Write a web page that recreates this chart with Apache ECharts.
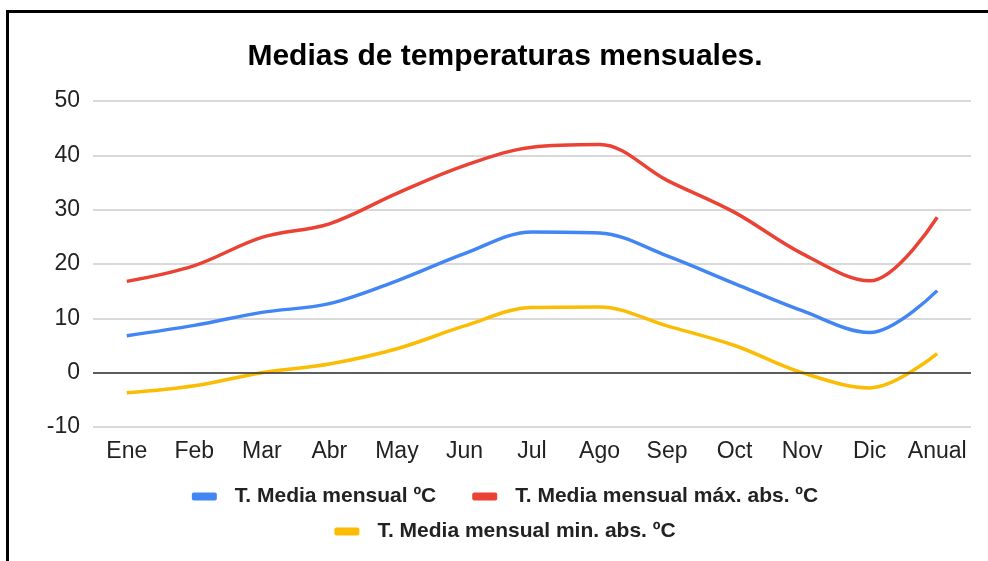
<!DOCTYPE html>
<html>
<head>
<meta charset="utf-8">
<script src="https://cdn.jsdelivr.net/npm/echarts@6/dist/echarts.min.js"></script>
<style>
  html, body { margin: 0; padding: 0; background: #fff; overflow: hidden; }
  #frame {
    position: absolute; left: 6px; top: 10px; width: 1000px; height: 600px;
    border-top: 3px solid #000; border-left: 3px solid #000;
    pointer-events: none;
  }
  #myLine { position: absolute; left: 10px; top: 0; width: 990px; height: 561px; }
</style>
</head>
<body>
<div id="myLine"></div>
<div id="frame"></div>
<script>
  // datos
  var meses = ['Ene', 'Feb', 'Mar', 'Abr', 'May', 'Jun', 'Jul', 'Ago', 'Sep', 'Oct', 'Nov', 'Dic', 'Anual'];
  var tMedia = [6.8, 8.7, 11.1, 12.7, 16.9, 21.9, 25.9, 25.7, 21.5, 16.4, 11.4, 7.4, 15.1];
  var tMax = [16.8, 19.7, 24.9, 27.4, 33.0, 38.1, 41.5, 42.0, 35.4, 29.5, 21.9, 16.9, 28.6];
  var tMin = [-3.7, -2.4, 0.0, 1.6, 4.4, 8.6, 12.0, 12.1, 8.6, 5.0, 0.0, -2.8, 3.5];
  var nombres = ['T. Media mensual ºC', 'T. Media mensual máx. abs. ºC', 'T. Media mensual min. abs. ºC'];

  var fuente = 'Arial, "Liberation Sans", sans-serif';
  var legendText = {
    color: '#222',
    fontSize: 21,
    fontWeight: 'bold',
    fontFamily: fuente,
    padding: [0, 0, 0, 13]
  };

  var myLine = echarts.init(document.getElementById('myLine'));
  var option = {
    backgroundColor: '#fff',
    animation: false,
    title: {
      text: 'Medias de temperaturas mensuales.',
      left: 'center',
      top: 37,
      textStyle: {
        color: '#000',
        fontSize: 30,
        fontWeight: 'bold',
        fontFamily: fuente
      }
    },
    legend: [
      {
        data: [nombres[0], nombres[1]],
        left: 'center',
        top: 481,
        icon: 'roundRect',
        itemWidth: 25,
        itemHeight: 8,
        itemGap: 36,
        textStyle: legendText
      },
      {
        data: [nombres[2]],
        left: 'center',
        top: 516,
        icon: 'roundRect',
        itemWidth: 25,
        itemHeight: 8,
        textStyle: legendText
      }
    ],
    grid: {
      left: 83,
      right: 29,
      top: 101,
      bottom: 134
    },
    xAxis: {
      type: 'category',
      data: meses,
      axisLine: { show: false },
      axisTick: { show: false },
      axisLabel: {
        interval: 0,
        color: '#222',
        fontSize: 23,
        fontFamily: fuente,
        margin: 13
      }
    },
    yAxis: {
      type: 'value',
      min: -10,
      max: 50,
      interval: 10,
      axisLine: { show: false },
      axisTick: { show: false },
      splitLine: {
        lineStyle: { color: '#ccc', width: 1.5 }
      },
      axisLabel: {
        color: '#222',
        fontSize: 23,
        fontFamily: fuente,
        margin: 13
      }
    },
    series: [
      {
        name: nombres[0],
        type: 'line',
        smooth: 0.35,
        symbol: 'none',
        data: tMedia,
        itemStyle: { color: '#4285F4' },
        lineStyle: { width: 3.5 },
        // linea del cero
        markLine: {
          silent: true,
          symbol: 'none',
          label: { show: false },
          lineStyle: { color: '#333', type: 'solid', width: 1.5 },
          data: [{ yAxis: 0 }]
        },
        z: 3
      },
      {
        name: nombres[1],
        type: 'line',
        smooth: 0.35,
        symbol: 'none',
        data: tMax,
        itemStyle: { color: '#EA4335' },
        lineStyle: { width: 3.5 },
        z: 3
      },
      {
        name: nombres[2],
        type: 'line',
        smooth: 0.35,
        symbol: 'none',
        data: tMin,
        itemStyle: { color: '#FBBC04' },
        lineStyle: { width: 3.5 },
        z: 3
      }
    ]
  };
  myLine.setOption(option);
</script>
</body>
</html>
